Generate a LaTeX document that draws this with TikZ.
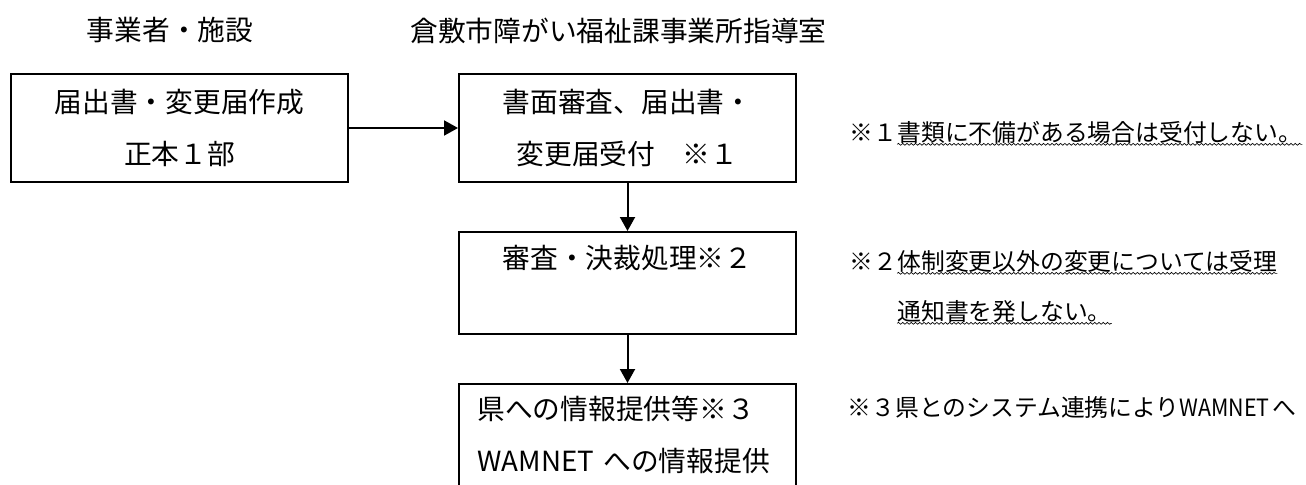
\documentclass[tikz,border=0pt]{standalone}
\usepackage{fontspec}
\newfontfamily\jpfont{Noto Sans CJK JP}
\usetikzlibrary{arrows.meta,decorations.pathmorphing,positioning}

\begin{document}
\begin{tikzpicture}[x=0.75pt,y=-0.75pt,
        box/.style={draw,line width=1.5pt,minimum width=252.75pt,inner sep=0pt,
            align=center,font=\jpfont\fontsize{20.8}{39}\selectfont},
        head/.style={inner sep=0pt,font=\jpfont\fontsize{20.8}{25}\selectfont},
        note/.style={inner sep=0pt,anchor=base west,font=\jpfont\fontsize{17.85}{22}\selectfont},
        flow/.style={line width=1.5pt,-{Triangle[length=10.5pt,width=11.25pt]}},
        wavy/.style={line width=0.5pt,decorate,decoration={snake,amplitude=0.7pt,segment length=3.2pt}}]
        \useasboundingbox (0,0) rectangle (1306,485);

        % column heads
        \node[head] (firm) at (170,30) {事業者・施設};
        \node[head] (office) at (618.5,31) {倉敷市障がい福祉課事業所指導室};

        % flow boxes
        \node[box,minimum height=81pt] (form) at (179.5,128) {届出書・変更届作成\\正本１部};
        \node[box,minimum height=81pt] (accept) at (627.5,128) {書面審査、届出書・\\変更届受付　※１};
        \node[box,minimum height=76.5pt] (review) at (627.5,283) {審査・決裁処理※２\\\mbox{}};
        \node[box,minimum height=114pt,text width=225pt,align=left] (report) at (627.5,460)
            {県への情報提供等※３\\WAMNET への情報提供\\\mbox{}};

        \draw[flow] (form.east) -- (accept.west);
        \draw[flow] (accept) -- (review);
        \draw[flow] (review) -- (report);

        % remarks
        \node[note] (mark1) at (849,141) {※１};
        \node[note] (note1) at (mark1.base east) {書類に不備がある場合は受付しない。};
        \node[note] (mark2) at (849,270) {※２};
        \node[note] (note2) at (mark2.base east) {体制変更以外の変更については受理};
        \node[note] (note2b) at ([yshift=-37.5pt]note2.base west) {通知書を発しない。};
        \node[note] (mark3) at (847,416) {※３};
        \node[note] (note3) at (mark3.base east)
            {県とのシステム連携により\scalebox{0.9}[1]{WAMNET}\hspace{2pt}へ};

        \foreach \n in {note1,note2,note2b}
            \draw[wavy] ([yshift=-2.5pt]\n.base west) -- ([yshift=-2.5pt]\n.base east);
\end{tikzpicture}
\end{document}
